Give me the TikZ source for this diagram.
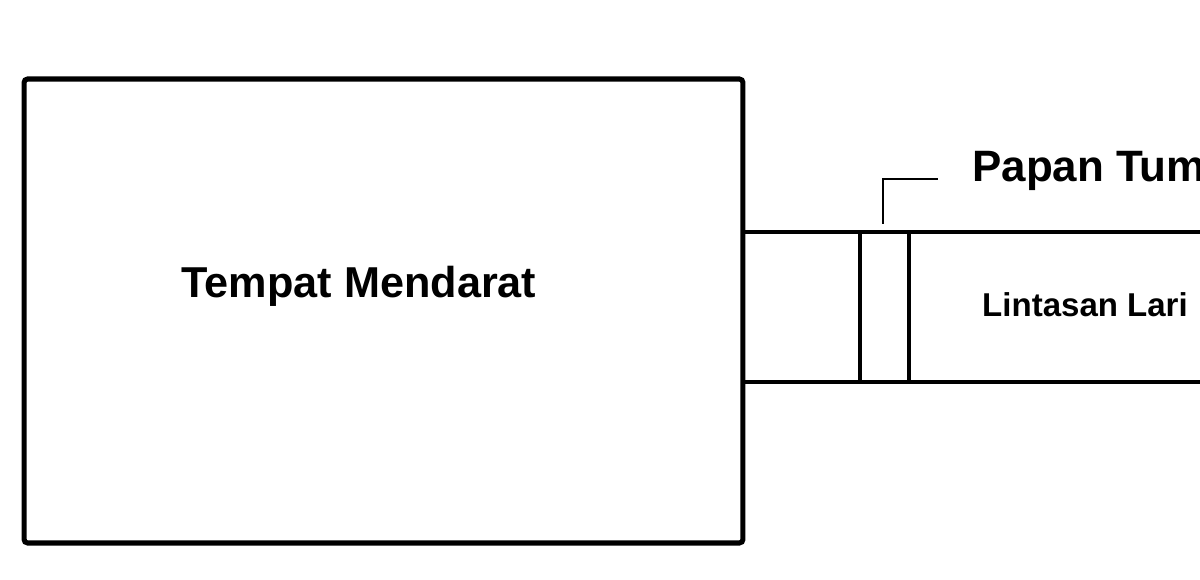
\documentclass[tikz,border=0pt]{standalone}
\usepackage{fontspec}
\setmainfont{Liberation Sans}
\usetikzlibrary{positioning}

\begin{document}
\begin{tikzpicture}[
    x=0.02cm, y=-0.02cm,
    pit/.style={draw, rectangle, line width=2.9pt, rounded corners=2pt, minimum width=14.38cm, minimum height=9.28cm, inner sep=0pt},
    board/.style={draw, rectangle, line width=2.7pt, minimum width=0.98cm, minimum height=3cm, inner sep=0pt},
    track/.style={line width=2.7pt},
    leader/.style={line width=1.1pt},
    lbl/.style={font=\bfseries\fontsize{24.6}{28}\selectfont, inner sep=0pt}
]
\useasboundingbox (0,0) rectangle (1200,580);

% tempat mendarat
\node[pit] (pit) at (383.5,311) {};
\node[lbl] (pitlbl) at (359,286) {Tempat Mendarat};

% lintasan lari
\coordinate (runtop) at (743,232);
\coordinate (runbot) at (743,382);
\coordinate (runtopend) at (1210,232);
\coordinate (runbotend) at (1210,382);
\draw[track] (runtop) -- (runtopend);
\draw[track] (runbot) -- (runbotend);
\node[font=\bfseries\fontsize{18.8}{22}\selectfont, inner sep=0pt] (runlbl) at (1085,305) {Lintasan Lari};

% papan tumpuan
\node[board] (board) at (884.5,307) {};
\coordinate (tip) at (883,224);
\coordinate (elbow) at (883,179);
\coordinate (tail) at (938,179);
\draw[leader] (tip) -- (elbow) -- (tail);
\node[lbl, font=\bfseries\fontsize{25}{29}\selectfont, anchor=base west] (boardlbl) at (972,182) {Papan Tum};

\end{tikzpicture}
\end{document}
